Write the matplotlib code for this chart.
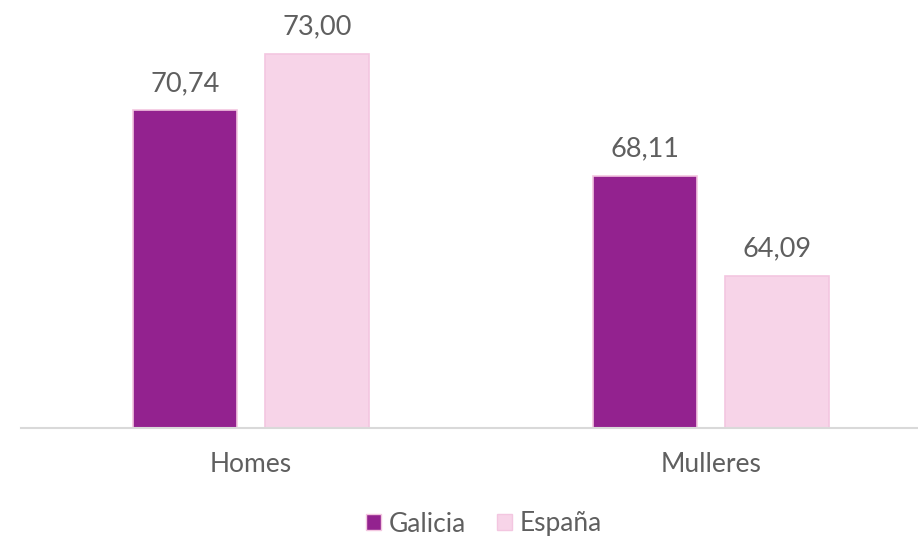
import matplotlib.pyplot as plt
import numpy as np
from matplotlib.patches import Patch

categories = ['Homes', 'Mulleres']
galicia = [70.74, 68.11]
espana = [73.00, 64.09]
series_names = ['Galicia', 'España']

c_gal = '#93228F'
c_esp = '#F7D4E8'
txt = '#5F5F5F'

plt.rcParams['font.family'] = ['Lato', 'DejaVu Sans']

fig = plt.figure(figsize=(9.18, 5.39), dpi=100)
ax = fig.add_axes([21/918, 1 - 428/539, 896/918, 408/539])

x = np.arange(len(categories))
w = 0.226
off = 0.1435
b1 = ax.bar(x - off, galicia, w, color=c_gal, edgecolor='#F3C6E0', linewidth=1.2, zorder=2)
b2 = ax.bar(x + off, espana, w, color=c_esp, edgecolor='#F3C6E0', linewidth=1.2, zorder=2)

for bars, vals in [(b1, galicia), (b2, espana)]:
    for r, v in zip(bars, vals):
        ax.annotate(f'{v:.2f}'.replace('.', ','), (r.get_x() + r.get_width() / 2, v),
                    xytext=(0, 10.5), textcoords='offset points', ha='center', va='bottom',
                    fontsize=19.5, color=txt)

ax.set_xlim(-0.5, 1.448)
ax.set_ylim(58, 74.37)
ax.set_xticks(x)
ax.set_xticklabels(categories, fontsize=19, color=txt)
ax.tick_params(axis='x', length=0, pad=17)
ax.set_yticks([])
for s in ['top', 'right', 'left']:
    ax.spines[s].set_visible(False)
ax.spines['bottom'].set_color('#D9D9D9')
ax.spines['bottom'].set_linewidth(1.5)

handles = [Patch(facecolor=c_gal, edgecolor='#F3C6E0'), Patch(facecolor=c_esp, edgecolor='#F3C6E0')]
fig.legend(handles, series_names, loc='center', bbox_to_anchor=(484/918, 1 - 524/539),
           ncol=2, frameon=False, fontsize=19, labelcolor=txt,
           handlelength=0.55, handleheight=0.55, handletextpad=0.3, columnspacing=1.2)

fig.savefig('out.png', dpi=100)
